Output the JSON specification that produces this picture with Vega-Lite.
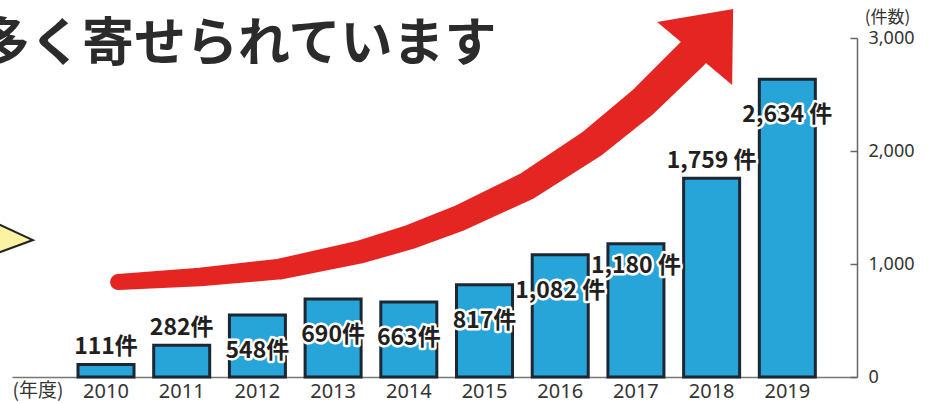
{
  "$schema": "https://vega.github.io/schema/vega-lite/v6.json",
  "width": 845,
  "height": 339,
  "autosize": {"type": "none"},
  "padding": {"left": 12, "top": 38, "right": 74, "bottom": 26},
  "background": "white",
  "config": {"view": {"stroke": null}},
  "title": {
    "text": "多く寄せられています",
    "anchor": "start",
    "frame": "group",
    "font": "Noto Sans CJK JP",
    "fontSize": 52,
    "fontWeight": "bold",
    "color": "#2b2b2b",
    "baseline": "alphabetic",
    "dx": -34,
    "offset": -105
  },
  "datasets": {
    "shaft": [
      {"ax": 2010.16, "ay": 841},
      {"ax": 2011.24, "ay": 885},
      {"ax": 2012.30, "ay": 956},
      {"ax": 2013.354, "ay": 1106},
      {"ax": 2014.014, "ay": 1239},
      {"ax": 2014.67, "ay": 1407},
      {"ax": 2015.56, "ay": 1690},
      {"ax": 2016.43, "ay": 2071},
      {"ax": 2017.09, "ay": 2434},
      {"ax": 2017.75, "ay": 2867}
    ],
    "head": [{"ax": 2017.91, "ay": 2982}],
    "pointer": [{"ax": 2008.601, "ay": 1212}],
    "bars": [
      {"year": 2010, "count": 111, "label": "111件"},
      {"year": 2011, "count": 282, "label": "282件"},
      {"year": 2012, "count": 548, "label": "548件"},
      {"year": 2013, "count": 690, "label": "690件"},
      {"year": 2014, "count": 663, "label": "663件"},
      {"year": 2015, "count": 817, "label": "817件"},
      {"year": 2016, "count": 1082, "label": "1,082 件"},
      {"year": 2017, "count": 1180, "label": "1,180 件"},
      {"year": 2018, "count": 1759, "label": "1,759 件"},
      {"year": 2019, "count": 2634, "label": "2,634 件"}
    ]
  },
  "resolve": {"scale": {"x": "independent"}, "axis": {"x": "independent"}},
  "layer": [
    {
      "layer": [
        {
          "data": {"name": "shaft"},
          "mark": {"type": "trail", "color": "#e52521", "opacity": 1},
          "encoding": {
            "x": {"field": "ax", "type": "quantitative", "scale": {"domain": [2008.759, 2019.915], "nice": false, "zero": false}, "axis": null},
            "y": {"field": "ay", "type": "quantitative", "scale": {"domain": [0, 3000], "nice": false}},
            "size": {"field": "ax", "type": "quantitative", "scale": {"domain": [2010.16, 2017.75], "range": [16, 33], "zero": false}, "legend": null}
          }
        },
        {
          "data": {"name": "head"},
          "mark": {"type": "point", "shape": "M-0.96,-0.36L0.56,-0.62L0.54,0.9Z", "size": 10000, "filled": true, "fill": "#e52521", "strokeWidth": 0, "opacity": 1},
          "encoding": {
            "x": {"field": "ax", "type": "quantitative", "axis": null},
            "y": {"field": "ay", "type": "quantitative"}
          }
        },
        {
          "data": {"name": "pointer"},
          "mark": {"type": "point", "shape": "M-0.86,-0.83L0.94,0L-0.86,0.66Z", "size": 4900, "filled": true, "fill": "#fcf2a4", "stroke": "#222222", "strokeWidth": 2, "opacity": 1},
          "encoding": {
            "x": {"field": "ax", "type": "quantitative", "axis": null},
            "y": {"field": "ay", "type": "quantitative"}
          }
        }
      ]
    },
    {
      "data": {"name": "bars"},
      "encoding": {
        "x": {
          "field": "year", "type": "ordinal",
          "scale": {"type": "band", "paddingInner": 0.26, "paddingOuter": 0.711, "align": 0.613},
          "axis": {
            "title": "(年度)", "titleX": 0, "titleY": 13, "titleAlign": "left", "titleBaseline": "middle",
            "titleFont": "Noto Sans CJK JP", "titleFontSize": 19, "titleFontWeight": "normal", "titleColor": "#333333",
            "labelAngle": 0, "labelFont": "Noto Sans", "labelFontSize": 20, "labelColor": "#333333", "labelPadding": 4,
            "ticks": false, "domainColor": "#777777", "domainWidth": 1.5
          }
        },
        "y": {
          "field": "count", "type": "quantitative",
          "scale": {"domain": [0, 3000], "nice": false},
          "axis": {
            "orient": "right", "values": [0, 1000, 2000, 3000], "format": ",d", "grid": false,
            "title": "(件数)", "titleAngle": 0, "titleX": 30, "titleY": -21, "titleAlign": "center", "titleBaseline": "middle",
            "titleFont": "Noto Sans CJK JP", "titleFontSize": 17, "titleFontWeight": "normal", "titleColor": "#333333",
            "labelFont": "Noto Sans", "labelFontSize": 18, "labelColor": "#333333", "labelPadding": 18, "labelFlush": false,
            "tickSize": -7, "tickColor": "#666666", "tickWidth": 1.5, "domainColor": "#666666", "domainWidth": 1.5
          }
        }
      },
      "layer": [
        {"mark": {"type": "bar", "fill": "#27a4d8", "stroke": "#1c2733", "strokeWidth": 3}},
        {
          "transform": [{"filter": {"field": "year", "oneOf": [2010, 2011, 2018]}}],
          "mark": {"type": "text", "font": "Noto Sans CJK JP", "fontWeight": "bold", "fontSize": 23, "baseline": "middle", "dy": -17, "fill": "white", "stroke": "white", "strokeWidth": 5, "strokeJoin": "round"},
          "encoding": {"text": {"field": "label"}}
        },
        {
          "transform": [{"filter": {"field": "year", "oneOf": [2010, 2011, 2018]}}],
          "mark": {"type": "text", "font": "Noto Sans CJK JP", "fontWeight": "bold", "fontSize": 23, "baseline": "middle", "dy": -17, "fill": "#231f20"},
          "encoding": {"text": {"field": "label"}}
        },
        {
          "transform": [{"filter": {"field": "year", "oneOf": [2017]}}],
          "mark": {"type": "text", "font": "Noto Sans CJK JP", "fontWeight": "bold", "fontSize": 23, "baseline": "middle", "dy": 22, "fill": "white", "stroke": "white", "strokeWidth": 5, "strokeJoin": "round"},
          "encoding": {"text": {"field": "label"}}
        },
        {
          "transform": [{"filter": {"field": "year", "oneOf": [2017]}}],
          "mark": {"type": "text", "font": "Noto Sans CJK JP", "fontWeight": "bold", "fontSize": 23, "baseline": "middle", "dy": 22, "fill": "#231f20"},
          "encoding": {"text": {"field": "label"}}
        },
        {
          "transform": [{"filter": {"field": "year", "oneOf": [2012, 2013, 2014, 2015, 2016, 2019]}}],
          "mark": {"type": "text", "font": "Noto Sans CJK JP", "fontWeight": "bold", "fontSize": 23, "baseline": "middle", "dy": 36, "fill": "white", "stroke": "white", "strokeWidth": 5, "strokeJoin": "round"},
          "encoding": {"text": {"field": "label"}}
        },
        {
          "transform": [{"filter": {"field": "year", "oneOf": [2012, 2013, 2014, 2015, 2016, 2019]}}],
          "mark": {"type": "text", "font": "Noto Sans CJK JP", "fontWeight": "bold", "fontSize": 23, "baseline": "middle", "dy": 36, "fill": "#231f20"},
          "encoding": {"text": {"field": "label"}}
        }
      ]
    }
  ]
}
